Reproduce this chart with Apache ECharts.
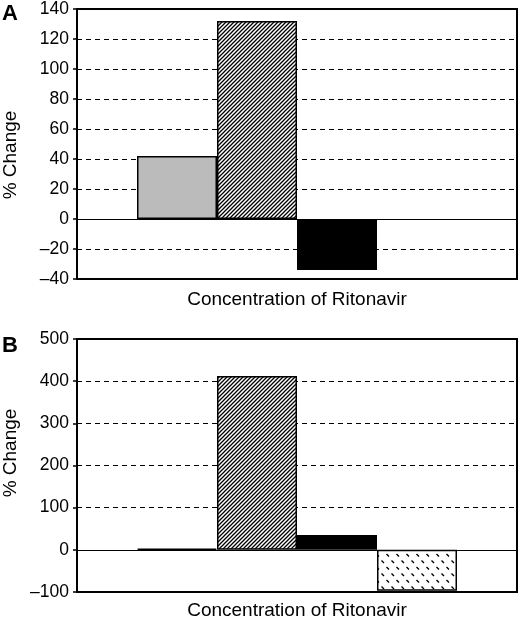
<!DOCTYPE html>
<html>
<head>
<meta charset="utf-8">
<script src="https://cdn.jsdelivr.net/npm/echarts@6/dist/echarts.min.js"></script>
<style>
  html, body { margin: 0; padding: 0; background: #fff; }
  #chart { width: 520px; height: 620px; }
</style>
</head>
<body>
<div id="chart"></div>
<script>
// data
const categories = ['Concentration of Ritonavir']
const panelA = [42, 132, -34, null]
const panelB = [3, 412, 35, -97]
const ticksA = { min: -40, max: 140, interval: 20 }
const ticksB = { min: -100, max: 500, interval: 100 }

const FONT = 'Liberation Sans, Arial, sans-serif'

// hatch fills
const makeHatch = () => {
  const c = document.createElement('canvas')
  c.width = 4; c.height = 4
  const g = c.getContext('2d')
  g.fillStyle = '#fff'; g.fillRect(0, 0, 4, 4)
  g.strokeStyle = '#000'; g.lineWidth = 1.3
  g.beginPath()
  g.moveTo(-1, 5); g.lineTo(5, -1)
  g.moveTo(-1, 1); g.lineTo(1, -1)
  g.moveTo(3, 5); g.lineTo(5, 3)
  g.stroke()
  return c
}

const makeDots = () => {
  const c = document.createElement('canvas')
  c.width = 10; c.height = 13
  const g = c.getContext('2d')
  g.fillStyle = '#fff'; g.fillRect(0, 0, 10, 13)
  g.strokeStyle = '#000'; g.lineWidth = 1.4
  g.beginPath()
  g.moveTo(1.5, 1.5); g.lineTo(4, 4)
  g.moveTo(6.5, 8); g.lineTo(9, 10.5)
  g.stroke()
  return c
}

const fills = [
  '#bbbbbb',
  { image: makeHatch(), repeat: 'repeat' },
  '#000000',
  { image: makeDots(), repeat: 'repeat' }
]

const dash = s => String(s).replace('-', '\u2013')

const yAxisFor = (idx, t) => ({
  type: 'value',
  gridIndex: idx,
  min: t.min, max: t.max, interval: t.interval,
  axisLine: { show: true, lineStyle: { color: '#000', width: 2 } },
  axisTick: { show: true, length: 4, lineStyle: { color: '#000', width: 1.5 } },
  axisLabel: { color: '#000', fontSize: 17.5, fontFamily: FONT, margin: 8, formatter: dash },
  splitLine: { show: true, lineStyle: { color: '#000', width: 1, type: [5, 4] } }
})

const xAxisFor = (idx, margin) => ({
  type: 'category',
  gridIndex: idx,
  data: categories,
  axisLine: { onZero: false, lineStyle: { color: '#000', width: 2 } },
  axisTick: { show: false },
  axisLabel: { color: '#000', fontSize: 19, fontFamily: FONT, margin: margin }
})

const seriesFor = (idx, values) => values.map((v, i) => ({
  type: 'bar',
  xAxisIndex: idx,
  yAxisIndex: idx,
  data: [v],
  barGap: '0%',
  barCategoryGap: '27.27%',
  itemStyle: { color: fills[i], borderColor: '#000', borderWidth: 1.5 },
  markLine: i === 0 ? {
    silent: true,
    symbol: 'none',
    label: { show: false },
    lineStyle: { color: '#000', width: 1, type: 'solid' },
    data: [{ yAxis: 0 }]
  } : undefined
}))

const chart = echarts.init(document.getElementById('chart'))
chart.setOption({
  backgroundColor: '#fff',
  animation: false,
  grid: [
    { left: 77, top: 7, width: 440, height: 272, show: true, borderColor: '#000', borderWidth: 2 },
    { left: 77, top: 339, width: 440, height: 253, show: true, borderColor: '#000', borderWidth: 2 }
  ],
  xAxis: [xAxisFor(0, 11), xAxisFor(1, 9)],
  yAxis: [yAxisFor(0, ticksA), yAxisFor(1, ticksB)],
  series: [...seriesFor(0, panelA), ...seriesFor(1, panelB)],
  graphic: [
    { type: 'text', left: 2, top: 3, style: { text: 'A', fontSize: 22, fontWeight: 'bold', fontFamily: FONT, fill: '#000' } },
    { type: 'text', left: 2, top: 335, style: { text: 'B', fontSize: 22, fontWeight: 'bold', fontFamily: FONT, fill: '#000' } },
    { type: 'text', x: 11, y: 155, rotation: Math.PI / 2,
      style: { text: '% Change', fontSize: 19, fontFamily: FONT, fill: '#000', align: 'center', verticalAlign: 'middle' } },
    { type: 'text', x: 11, y: 453, rotation: Math.PI / 2,
      style: { text: '% Change', fontSize: 19, fontFamily: FONT, fill: '#000', align: 'center', verticalAlign: 'middle' } }
  ]
})

window.addEventListener('resize', () => chart.resize())
</script>
</body>
</html>
